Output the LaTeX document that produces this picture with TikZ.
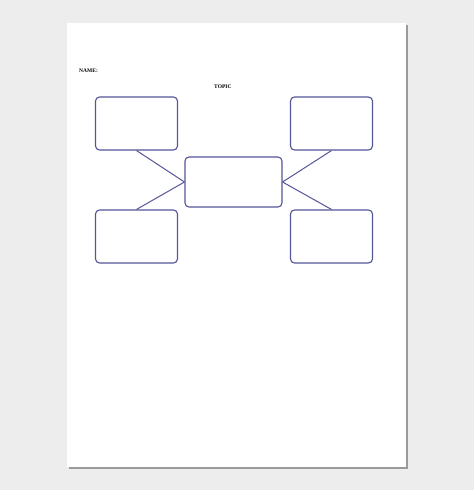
\documentclass[tikz,border=0pt]{standalone}
\usepackage{fontspec}
\setmainfont{Liberation Serif}
\definecolor{bg}{HTML}{EDEDED}
\definecolor{shadow}{HTML}{9A9A9A}
\definecolor{boxline}{HTML}{55559A}
\tikzset{
  mapbox/.style={draw=boxline, line width=1.1pt, rounded corners=4pt, fill=white, inner sep=0pt},
  link/.style={draw=boxline, line width=1pt},
  lbl/.style={font=\bfseries\fontsize{5.5}{6}\selectfont, inner sep=0pt, anchor=west}
}
\begin{document}
\begin{tikzpicture}[x=1pt,y=-1pt]
\useasboundingbox (0,0) rectangle (474,490);
\fill[bg] (0,0) rectangle (474,490);
\fill[shadow] (69,25) rectangle (408,469);
\fill[white] (67,23) rectangle (406,467);
\node[lbl] (name) at (79,71) {NAME:};
\node[lbl] (topic) at (214,87) {TOPIC};
\node[mapbox, minimum width=82pt, minimum height=53pt] (tl) at (136.5,123.5) {};
\node[mapbox, minimum width=82pt, minimum height=53pt] (tr) at (331.5,123.5) {};
\node[mapbox, minimum width=82pt, minimum height=53pt] (bl) at (136.5,236.5) {};
\node[mapbox, minimum width=82pt, minimum height=53pt] (br) at (331.5,236.5) {};
\node[mapbox, minimum width=97pt, minimum height=50pt] (c) at (233.5,182) {};
\draw[link] (tl.south) -- (c.west);
\draw[link] (bl.north) -- (c.west);
\draw[link] (tr.south) -- (c.east);
\draw[link] (br.north) -- (c.east);
\end{tikzpicture}
\end{document}
